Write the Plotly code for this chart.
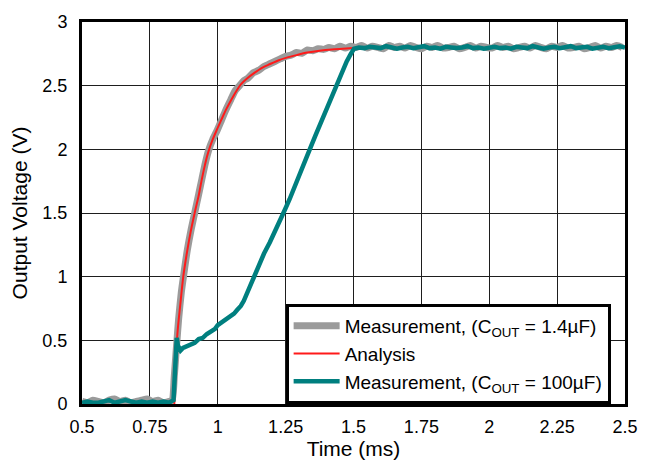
import plotly.graph_objects as go

# ---- Measured output, C_OUT = 1.4 uF (time in ms, volts) ----
t_meas_small = [
    0.50, 0.52, 0.54, 0.56, 0.58, 0.60, 0.62, 0.64, 0.66, 0.68, 0.70, 0.72, 0.74, 0.76, 0.78,
    0.80, 0.82, 0.832,
    0.840, 0.848, 0.856, 0.866, 0.875, 0.888, 0.902, 0.916, 0.930, 0.942, 0.954, 0.966, 0.982,
    0.998, 1.014, 1.030, 1.048, 1.064, 1.080, 1.096, 1.112, 1.130, 1.150, 1.170, 1.190, 1.210,
    1.230, 1.250, 1.270, 1.290, 1.310, 1.330, 1.350, 1.370, 1.390, 1.410, 1.430, 1.450, 1.470,
    1.490,
    1.51, 1.53, 1.55, 1.57, 1.59, 1.61, 1.63, 1.65, 1.67, 1.69, 1.71, 1.73, 1.75, 1.77, 1.79,
    1.81, 1.83, 1.85, 1.87, 1.89, 1.91, 1.93, 1.95, 1.97, 1.99, 2.01, 2.03, 2.05, 2.07, 2.09,
    2.11, 2.13, 2.15, 2.17, 2.19, 2.21, 2.23, 2.25, 2.27, 2.29, 2.31, 2.33, 2.35, 2.37, 2.39,
    2.41, 2.43, 2.45, 2.47, 2.49,
]
v_meas_small = [
    0.02, 0.01, 0.03, 0.02, 0.01, 0.03, 0.04, 0.02, 0.03, 0.01, 0.02, 0.03, 0.04, 0.02, 0.03,
    0.01, 0.02, 0.03,
    0.22, 0.45, 0.67, 0.88, 1.02, 1.21, 1.37, 1.51, 1.65, 1.77, 1.89, 1.99, 2.08,
    2.15, 2.23, 2.31, 2.39, 2.46, 2.50, 2.54, 2.56, 2.60, 2.62, 2.65, 2.67, 2.69,
    2.71, 2.73, 2.74, 2.76, 2.755, 2.78, 2.775, 2.79, 2.785, 2.80, 2.79, 2.81, 2.795,
    2.81,
    2.80, 2.815, 2.795, 2.81, 2.80, 2.79, 2.815, 2.80, 2.81, 2.795, 2.815, 2.80, 2.79, 2.81, 2.80,
    2.815, 2.795, 2.80, 2.81, 2.79, 2.80, 2.815, 2.795, 2.81, 2.80, 2.795, 2.815, 2.80, 2.81, 2.79,
    2.80, 2.81, 2.795, 2.815, 2.80, 2.79, 2.81, 2.80, 2.815, 2.795, 2.80, 2.81, 2.79, 2.80, 2.815,
    2.795, 2.81, 2.80, 2.815, 2.80,
]

# ---- Analytical response ----
t_analysis = [
    0.840, 0.851, 0.862, 0.873, 0.885, 0.900, 0.916, 0.930, 0.940, 0.952, 0.964, 0.980, 0.998,
    1.015, 1.030, 1.050, 1.072, 1.085, 1.110, 1.135, 1.163, 1.193, 1.225, 1.254, 1.290, 1.330,
    1.375, 1.420, 1.460, 1.500,
]
v_analysis = [
    0.00, 0.54, 0.78, 1.00, 1.17, 1.35, 1.51, 1.64, 1.75, 1.87, 1.97, 2.07, 2.16,
    2.24, 2.31, 2.39, 2.47, 2.51, 2.56, 2.60, 2.64, 2.67, 2.70, 2.72, 2.74, 2.76,
    2.775, 2.785, 2.79, 2.795,
]

# ---- Measured output, C_OUT = 100 uF ----
t_meas_large = [
    0.50, 0.52, 0.54, 0.56, 0.58, 0.60, 0.62, 0.64, 0.66, 0.68, 0.70, 0.72, 0.74, 0.76, 0.78,
    0.80, 0.82, 0.837,
    0.843, 0.849, 0.853, 0.858, 0.863, 0.872, 0.885, 0.900, 0.915, 0.930, 0.945, 0.960, 0.975,
    0.990, 1.000, 1.015, 1.030, 1.045, 1.060, 1.072, 1.085, 1.096, 1.110, 1.122, 1.132, 1.150,
    1.170, 1.192, 1.210, 1.230, 1.246, 1.265, 1.285, 1.310, 1.337, 1.360, 1.385, 1.410, 1.433,
    1.455, 1.475, 1.490, 1.502,
    1.52, 1.54, 1.56, 1.58, 1.60, 1.62, 1.64, 1.66, 1.68, 1.70, 1.72, 1.74, 1.76, 1.78, 1.80,
    1.82, 1.84, 1.86, 1.88, 1.90, 1.92, 1.94, 1.96, 1.98, 2.00, 2.02, 2.04, 2.06, 2.08, 2.10,
    2.12, 2.14, 2.16, 2.18, 2.20, 2.22, 2.24, 2.26, 2.28, 2.30, 2.32, 2.34, 2.36, 2.38, 2.40,
    2.42, 2.44, 2.46, 2.48, 2.50,
]
v_meas_large = [
    0.01, 0.02, 0.01, 0.01, 0.02, 0.03, 0.01, 0.02, 0.03, 0.02, 0.01, 0.02, 0.01, 0.02, 0.01,
    0.02, 0.01, 0.03,
    0.28, 0.52, 0.46, 0.43, 0.42, 0.44, 0.45, 0.47, 0.48, 0.51, 0.52, 0.55, 0.57,
    0.59, 0.62, 0.64, 0.66, 0.69, 0.71, 0.74, 0.77, 0.81, 0.88, 0.95, 1.00, 1.09,
    1.18, 1.27, 1.36, 1.44, 1.52, 1.61, 1.71, 1.84, 1.99, 2.11, 2.24, 2.37, 2.49,
    2.60, 2.69, 2.75, 2.79,
    2.80, 2.795, 2.805, 2.80, 2.795, 2.81, 2.80, 2.79, 2.80, 2.805, 2.795, 2.80, 2.81, 2.795, 2.80,
    2.79, 2.805, 2.80, 2.795, 2.80, 2.81, 2.795, 2.80, 2.79, 2.80, 2.805, 2.795, 2.80, 2.79, 2.805,
    2.80, 2.795, 2.81, 2.80, 2.79, 2.80, 2.805, 2.795, 2.80, 2.81, 2.795, 2.80, 2.805, 2.79, 2.80,
    2.805, 2.795, 2.80, 2.81, 2.80,
]

x_ticks = [0.5, 0.75, 1, 1.25, 1.5, 1.75, 2, 2.25, 2.5]
y_ticks = [0, 0.5, 1, 1.5, 2, 2.5, 3]

FONT = "Liberation Sans, Arial, sans-serif"

fig = go.Figure()
fig.add_trace(go.Scatter(
    x=t_meas_small, y=v_meas_small, mode="lines",
    name="Measurement, (C<sub>OUT</sub> = 1.4µF)",
    line=dict(color="#9b9b9b", width=7, shape="spline", smoothing=0.6),
))
fig.add_trace(go.Scatter(
    x=t_analysis, y=v_analysis, mode="lines", name="Analysis",
    line=dict(color="#ff1a1a", width=2, shape="spline", smoothing=0.8),
))
fig.add_trace(go.Scatter(
    x=t_meas_large, y=v_meas_large, mode="lines",
    name="Measurement, (C<sub>OUT</sub> = 100µF)",
    line=dict(color="#007f7f", width=4.5),
))

axis_common = dict(
    showline=True, linecolor="black", linewidth=3, mirror=True,
    showgrid=True, gridcolor="#1e1e1e", gridwidth=1,
    zeroline=False, ticks="", tickfont=dict(size=18, color="black"),
)

fig.update_layout(
    width=650, height=464,
    margin=dict(l=82, r=16, t=18, b=60),
    paper_bgcolor="white", plot_bgcolor="white",
    font=dict(family=FONT, size=18, color="black"),
    xaxis=dict(range=[0.5, 2.5], tickvals=x_ticks, ticktext=[str(v) for v in x_ticks],
               ticklabelstandoff=4,
               title=dict(text="Time (ms)", font=dict(size=21), standoff=0), **axis_common),
    yaxis=dict(range=[0, 3], tickvals=y_ticks, ticktext=[str(v) for v in y_ticks],
               ticklabelstandoff=8,
               title=dict(text="Output Voltage (V)", font=dict(size=21), standoff=10), **axis_common),
    legend=dict(
        x=0.375, y=0, xanchor="left", yanchor="bottom",
        bgcolor="white", bordercolor="black", borderwidth=3,
        font=dict(size=19), tracegroupgap=0, itemwidth=46,
    ),
    showlegend=True,
)

fig.write_html("out.html")
